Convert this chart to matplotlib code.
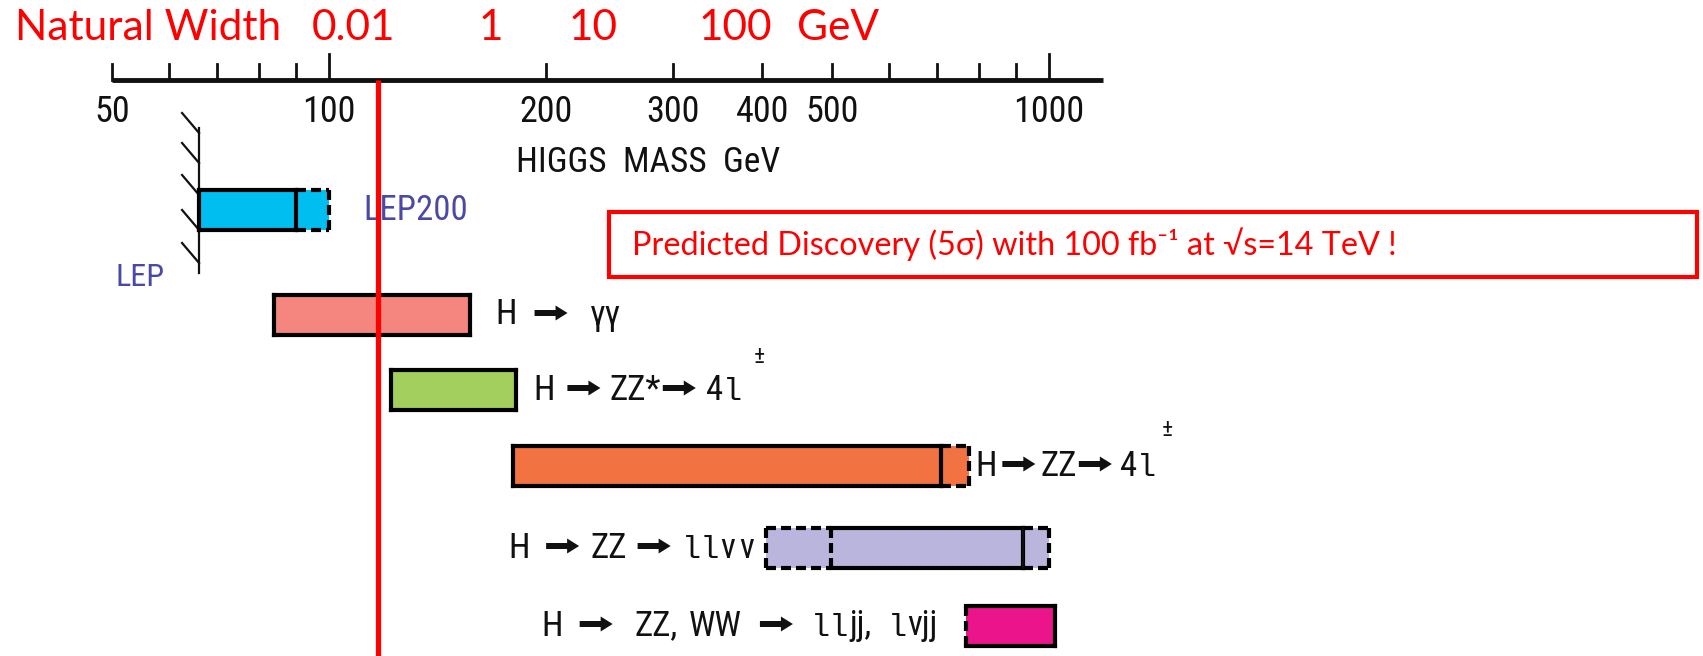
import matplotlib
matplotlib.use('Agg')
import matplotlib.pyplot as plt
from matplotlib import font_manager as fm
from matplotlib.patches import Rectangle, Polygon
from matplotlib.offsetbox import TextArea, HPacker, AnnotationBbox, DrawingArea

W, H = 1703, 656
X100, DECADE = 329, 720          # pixel of 100 GeV, pixels per decade

# Higgs mass axis (GeV)
axis_range = [50, 1190]
short_ticks = [50, 60, 70, 80, 90, 200, 300, 400, 500, 600, 700, 800, 900]
long_ticks = [100, 1000]
tick_labels = [50, 100, 200, 300, 400, 500, 1000]

# natural width scale written above the mass axis
width_labels = ['0.01', '1', '10', '100']
width_label_mass = [108, 168, 233, 367]

higgs_mass = 117

# mass reach per channel (GeV)
lep_solid, lep_dashed = [66, 90], [90, 100]
gg_solid = [84, 157]
zzs_solid = [122, 182]
zz4l_solid, zz4l_dashed = [180, 708], [708, 774]
llvv_dashed_lo, llvv_solid, llvv_dashed_hi = [405, 498], [498, 920], [920, 1000]
lljj_solid = [768, 1019]

RED = '#ff0000'
INK = '#111111'
SANS = ['Lato', 'DejaVu Sans']
PT = 0.72                        # points per pixel at 100 dpi


def narrow_font():
    # look for a condensed / narrow sans face, otherwise plain Liberation Sans
    prefer = ['Liberation Sans Narrow', 'Arial Narrow', 'Roboto Condensed',
              'DejaVu Sans', 'Noto Sans', 'Open Sans']
    found = {}
    for f in fm.fontManager.ttflist:
        base = f.fname.rsplit('/', 1)[-1]
        if f.style != 'normal' or f.weight not in (400, 'normal', 'regular', 'book'):
            continue
        if ('Condensed' in base or 'Narrow' in base) and 'Semi' not in base \
                and 'Extra' not in base and 'Ultra' not in base:
            found.setdefault(f.name, f.fname)
    for name in prefer:
        if name in found:
            return fm.FontProperties(fname=found[name]), True
    if found:
        return fm.FontProperties(fname=sorted(found.values())[0]), True
    return fm.FontProperties(family='Liberation Sans'), False


NARROW, HAVE_NARROW = narrow_font()
K = 1.0 if HAVE_NARROW else 0.85


def nprops(size):
    p = NARROW.copy()
    p.set_size(size * K)
    return p


fig = plt.figure(figsize=(W / 100, H / 100), dpi=100)
ax = fig.add_axes([0, 0, 1, 1])
ax.set_xscale('log')
ax.set_xlim(100 * 10 ** (-X100 / DECADE), 100 * 10 ** ((W - X100) / DECADE))
ax.set_ylim(H, 0)
ax.axis('off')

# mass axis
AXY = 80
ax.plot(axis_range, [AXY, AXY], color=INK, lw=3.5, solid_capstyle='butt', zorder=4)
for m in short_ticks:
    ax.plot([m, m], [AXY, AXY - 16], color=INK, lw=2, zorder=4)
for m in long_ticks:
    ax.plot([m, m], [AXY, AXY - 26], color=INK, lw=2, zorder=4)
for m in tick_labels:
    ax.text(m, 112, str(m), ha='center', va='center', fontproperties=nprops(26), color=INK)
ax.text(182, 163, 'HIGGS  MASS  GeV', ha='left', va='center',
        fontproperties=nprops(25.5), color=INK)

# natural width scale
ax.text(100 * 10 ** ((15 - X100) / DECADE), 40, 'Natural Width', ha='left',
        va='baseline', fontsize=30.5, family=SANS, color=RED)
for s, m in zip(width_labels, width_label_mass):
    ax.text(m, 40, s, ha='center', va='baseline', fontsize=30.5, family=SANS, color=RED)
ax.text(509, 40, 'GeV', ha='center', va='baseline', fontsize=30.5, family=SANS, color=RED)

BAR_H = 40


def edge(x, y, ls):
    ax.plot(x, y, color='black', lw=3, ls=ls, solid_capstyle='projecting',
            dash_capstyle='butt', zorder=3)


def bar(lo, hi, yc, color, top='-', bottom='-', left='-', right='-'):
    y0, y1 = yc - BAR_H / 2, yc + BAR_H / 2
    ax.add_patch(Rectangle((lo, y0), hi - lo, BAR_H, facecolor=color,
                           edgecolor='none', zorder=2))
    dash = (0, (2.4, 1.2))
    style = lambda s: dash if s == '--' else s
    if top:
        edge([lo, hi], [y0, y0], style(top))
    if bottom:
        edge([lo, hi], [y1, y1], style(bottom))
    if left:
        edge([lo, lo], [y0, y1], style(left))
    if right:
        edge([hi, hi], [y0, y1], style(right))


def arrow_box(length=33, head=12, head_h=15, shaft=6, mid=11.5):
    # block arrow sitting on the text baseline, sizes in pixels
    da = DrawingArea(length * PT, (mid + head_h / 2) * PT, 0, 0)
    pts = [(0, mid - shaft / 2), (length - head, mid - shaft / 2),
           (length - head, mid - head_h / 2), (length, mid),
           (length - head, mid + head_h / 2), (length - head, mid + shaft / 2),
           (0, mid + shaft / 2)]
    da.add_artist(Polygon([(x * PT, y * PT) for x, y in pts], closed=True,
                          facecolor=INK, edgecolor='none'))
    return da


def label(parts, xy, offset, align, fs=25, charge=None):
    # parts: ('t', text) narrow sans, ('l', text) mono ell, ('a', '') arrow, ('g', px) gap
    kids = []
    for kind, s in parts:
        if kind == 'g':
            kids.append(DrawingArea(s * PT, 1))
        elif kind == 'a':
            kids.append(arrow_box())
        elif kind == 'l':
            kids.append(TextArea(s, textprops=dict(color=INK, family='Liberation Mono',
                                                   fontsize=23)))
        else:
            kids.append(TextArea(s, textprops=dict(color=INK, fontproperties=nprops(fs))))
    box = HPacker(children=kids, align='baseline', pad=0, sep=0)
    ab = AnnotationBbox(box, xy, xybox=offset, boxcoords='offset points',
                        box_alignment=(align, 0.5), frameon=False, pad=0,
                        annotation_clip=False)
    ax.add_artist(ab)
    if charge:
        ax.annotate('±', (1, 1), xycoords=ab, xytext=charge, textcoords='offset points',
                    ha='center', va='bottom', fontproperties=nprops(17), color=INK)


# LEP reach with the excluded-region wall
Y_LEP, Y_GG, Y_ZZS, Y_4L, Y_LLVV, Y_LLJJ = 210, 315, 390, 466, 548, 626
wall = lep_solid[0]
ax.plot([wall, wall], [128, 273], color=INK, lw=1.6, zorder=3)
for y in [133, 163, 195, 230, 263]:
    ax.plot([wall * 10 ** (-17 / DECADE), wall], [y - 20, y], color=INK, lw=1.6, zorder=3)
bar(*lep_dashed, Y_LEP, '#00bef0', top='--', bottom='--', left=None, right='--')
bar(*lep_solid, Y_LEP, '#00bef0')
ax.text(50.5, 277, 'LEP', ha='left', va='center', fontproperties=nprops(23), color='#4a4aa6')
ax.text(111.5, 210, 'LEP200', ha='left', va='center', fontproperties=nprops(25),
        color='#4a4aa6')
ax.plot([higgs_mass, higgs_mass], [185, 283], color='#3c3cc8', lw=1.2, zorder=4)

# channels
bar(*gg_solid, Y_GG, '#f4867f')
label([('t', 'H'), ('g', 18), ('a', ''), ('g', 22), ('t', 'γγ')],
      (gg_solid[1], Y_GG), (18, 0), 0)

bar(*zzs_solid, Y_ZZS, '#a2cf5e')
label([('t', 'H'), ('g', 13), ('a', ''), ('g', 9), ('t', 'ZZ*'), ('g', 2), ('a', ''),
       ('g', 10), ('t', '4'), ('l', 'l')],
      (zzs_solid[1], Y_ZZS), (12, 0), 0, charge=(12, 4))

bar(*zz4l_dashed, Y_4L, '#f37242', top='--', bottom='--', left=None, right='--')
bar(*zz4l_solid, Y_4L, '#f37242')
label([('t', 'H'), ('g', 5), ('a', ''), ('g', 5), ('t', 'ZZ'), ('g', 2), ('a', ''),
       ('g', 8), ('t', '4'), ('l', 'l')],
      (zz4l_dashed[1], Y_4L), (5, 0), 0, charge=(8, 6))

bar(*llvv_dashed_lo, Y_LLVV, '#b9b5dc', top='--', bottom='--', left='--', right='--')
bar(*llvv_dashed_hi, Y_LLVV, '#b9b5dc', top='--', bottom='--', left=None, right='--')
bar(*llvv_solid, Y_LLVV, '#b9b5dc', left=None)
ax.plot([llvv_solid[1]] * 2, [Y_LLVV - BAR_H / 2, Y_LLVV + BAR_H / 2], color=INK,
        lw=1.2, zorder=3)
label([('t', 'H'), ('g', 16), ('a', ''), ('g', 11), ('t', 'ZZ'), ('g', 11), ('a', ''),
       ('g', 11), ('l', 'll'), ('t', 'ν'), ('g', 4), ('t', 'ν')],
      (llvv_dashed_lo[0], Y_LLVV), (-9, 0), 1)

bar(*lljj_solid, Y_LLJJ, '#ec148a', left='--')
label([('t', 'H'), ('g', 17), ('a', ''), ('g', 22), ('t', 'ZZ,'), ('g', 11), ('t', 'WW'),
       ('g', 18), ('a', ''), ('g', 18), ('l', 'll'), ('t', 'jj,'), ('g', 16), ('l', 'l'),
       ('t', 'νjj')],
      (lljj_solid[0], Y_LLJJ), (-21, 0), 1)

# Higgs mass marker
ax.plot([higgs_mass, higgs_mass], [AXY, H], color=RED, lw=3.8, solid_capstyle='butt', zorder=5)

# discovery note
ax.add_patch(Rectangle((609 / W, 1 - 277 / H), (1697 - 609) / W, 65 / H,
                       transform=ax.transAxes, facecolor='white', edgecolor=RED,
                       lw=3, zorder=1))
ax.text(632 / W, 1 - 255 / H, 'Predicted Discovery (5σ) with 100 fb⁻¹ at √s=14 TeV !',
        transform=ax.transAxes, ha='left', va='baseline', fontsize=23.3, family=SANS,
        color=RED, zorder=2)

fig.savefig('out.png', dpi=100)
